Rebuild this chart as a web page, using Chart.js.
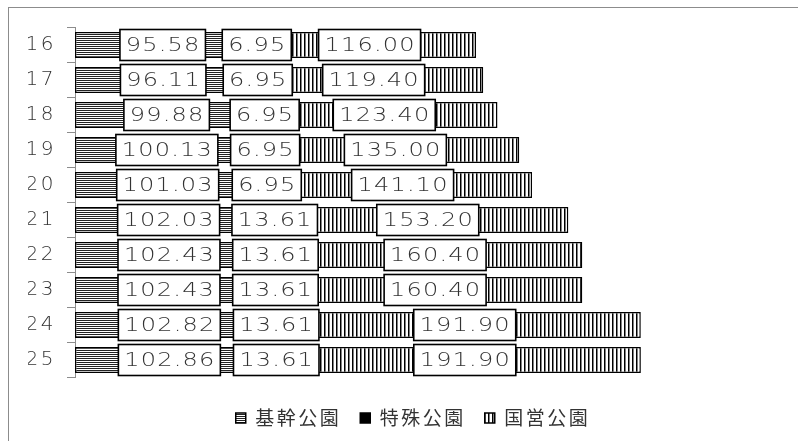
<!DOCTYPE html>
<html><head><meta charset="utf-8">
<script src="https://cdn.jsdelivr.net/npm/chart.js@4"></script>
<style>
html,body{margin:0;padding:0;background:#fff;}
#wrap{position:relative;width:798px;height:441px;overflow:hidden;}
#frame{position:absolute;left:8px;top:7px;width:1000px;height:1000px;border-left:1px solid #8c8c8c;border-top:1px solid #8c8c8c;}
canvas{position:absolute;left:0;top:0;}
</style></head>
<body><div id="wrap"><div id="frame"></div><canvas id="c" width="798" height="441"></canvas></div>
<script>
const years = ['16','17','18','19','20','21','22','23','24','25'];
const kikan = [95.58, 96.11, 99.88, 100.13, 101.03, 102.03, 102.43, 102.43, 102.82, 102.86];
const tokushu = [6.95, 6.95, 6.95, 6.95, 6.95, 13.61, 13.61, 13.61, 13.61, 13.61];
const kokuei = [116.00, 119.40, 123.40, 135.00, 141.10, 153.20, 160.40, 160.40, 191.90, 191.90];
const seriesNames = ['基幹公園','特殊公園','国営公園'];

function hPattern(period, color){
  const c=document.createElement('canvas'); c.width=4; c.height=period;
  const x=c.getContext('2d'); x.fillStyle='#fff'; x.fillRect(0,0,4,period);
  x.fillStyle=color; x.fillRect(0,0,4,1);
  return x.createPattern(c,'repeat');
}
function vPattern(period, color){
  const c=document.createElement('canvas'); c.width=period; c.height=4;
  const x=c.getContext('2d'); x.fillStyle='#fff'; x.fillRect(0,0,period,4);
  x.fillStyle=color; x.fillRect(0,0,1.5,4);
  return x.createPattern(c,'repeat');
}
const pat1=hPattern(2,'#222');
const pat2=hPattern(2,'#000');
const pat3=vPattern(4,'#000');

const SP='2.5px';
const spacing = {
  id:'spacing',
  beforeUpdate(chart){ chart.ctx.letterSpacing=SP; },
  beforeLayout(chart){ chart.ctx.letterSpacing=SP; },
  beforeDraw(chart){ chart.ctx.letterSpacing=SP; }
};
const boxLabels = {
  id:'boxLabels',
  afterDatasetsDraw(chart){
    const ctx=chart.ctx;
    const sx=1.2;
    ctx.save();
    ctx.letterSpacing='1px';
    ctx.font='200 20px "DejaVu Sans"';
    ctx.textAlign='center'; ctx.textBaseline='middle';
    chart.data.datasets.forEach((ds,i)=>{
      const meta=chart.getDatasetMeta(i);
      meta.data.forEach((el,j)=>{
        const txt=ds.data[j].toFixed(2);
        const cx=(el.x+el.base)/2;
        const w=(ctx.measureText(txt).width-1)*sx;
        const bw=w+12, bh=31;
        ctx.fillStyle='#fff';
        ctx.fillRect(cx-bw/2, el.y-bh/2, bw, bh);
        ctx.lineWidth=1.6; ctx.strokeStyle='#000';
        ctx.strokeRect(cx-bw/2, el.y-bh/2, bw, bh);
        ctx.fillStyle='#333';
        ctx.save();
        ctx.scale(sx,1);
        ctx.fillText(txt, (cx+0.5)/sx, el.y+1);
        ctx.restore();
      });
    });
    ctx.restore();
  }
};

new Chart(document.getElementById('c'), {
  type:'bar',
  data:{
    labels: years,
    datasets:[
      {label:seriesNames[0], data:kikan, backgroundColor:pat1},
      {label:seriesNames[1], data:tokushu, backgroundColor:pat2},
      {label:seriesNames[2], data:kokuei, backgroundColor:pat3}
    ]
  },
  options:{
    indexAxis:'y',
    responsive:false,
    animation:false,
    devicePixelRatio:1,
    layout:{padding:{top:27.5,left:28,right:0,bottom:3.5}},
    datasets:{bar:{borderColor:'#000',borderWidth:1.5,borderSkipped:false,barPercentage:0.74,categoryPercentage:1}},
    scales:{
      x:{stacked:true,display:true,min:0,max:394,
         grid:{display:false},border:{display:false},ticks:{display:false},
         afterFit(s){ s.height=12; }
      },
      y:{stacked:true,
         grid:{drawOnChartArea:false,tickLength:8,color:'#8c8c8c',offset:true},
         border:{color:'#8c8c8c'},
         ticks:{font:{family:'"DejaVu Sans"',size:20,weight:200},color:'#333',padding:11},
         afterFit(s){ s.width=47; }
      }
    },
    plugins:{
      tooltip:{enabled:false},
      legend:{
        position:'bottom',
        labels:{
          boxWidth:10,boxHeight:10,padding:19,color:'#333',
          font:{family:'"Noto Sans CJK JP"',size:19},
          generateLabels(chart){
            const items=Chart.defaults.plugins.legend.labels.generateLabels(chart);
            items.forEach((it,k)=>{ if(k===1) it.fillStyle='#000'; it.lineWidth=1.5; it.strokeStyle='#000'; });
            return items;
          }
        }
      }
    }
  },
  plugins:[spacing, boxLabels]
});
</script>
</body></html>
